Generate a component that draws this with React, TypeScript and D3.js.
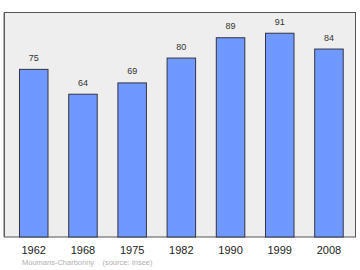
import React from "react";
import * as d3 from "d3";

const years = ["1962", "1968", "1975", "1982", "1990", "1999", "2008"];
const population = [75, 64, 69, 80, 89, 91, 84];
const footerLabel = "Moumans-Charbonny    (source: Insee)";

export default function App() {
  const W = 360, H = 270;
  const frame = { x0: 4.5, y0: 12.5, x1: 355.5, y1: 237 };
  const x = d3.scaleBand().domain(years).range([-5.5, 364.5]).paddingInner(0.42).paddingOuter(0.0);
  const y = d3.scaleLinear().domain([0, 100]).range([238.3, 12.4]);
  const bw = 28.5;
  const step = 49.2;
  const xs = d3.scaleLinear().domain([0, years.length - 1]).range([19, 19 + step * 6]);
  return (
    <svg width={W} height={H} style={{ position: "absolute", left: 0, top: 0 }}
      fontFamily="'Liberation Sans', Arial, sans-serif">
      <rect x={0} y={0} width={W} height={H} fill="#ffffff" />
      <rect x={frame.x0} y={frame.y0} width={frame.x1 - frame.x0} height={frame.y1 - frame.y0}
        fill="#eeeeee" stroke="#555555" strokeWidth={1} />
      <line x1={frame.x0 - 0.5} x2={frame.x0 - 0.5} y1={frame.y0} y2={frame.y1} stroke="#666" strokeWidth={1} />
      {population.map((v, i) => {
        const bx = xs(i);
        const top = y(v);
        return (
          <g key={years[i]}>
            <rect x={bx + 0.5} y={top + 0.5} width={bw} height={frame.y1 - top - 0.5}
              fill="#7099ff" stroke="#333344" strokeWidth={1} />
            <text x={bx + bw / 2 + 0.5} y={top - 8} textAnchor="middle" fontSize={9} fill="#333">{v}</text>
            <text x={bx + bw / 2 + 0.5} y={254} textAnchor="middle" fontSize={11} fill="#222">{years[i]}</text>
          </g>
        );
      })}
      <text x={22} y={265} fontSize={7.5} fill="#b0b0b0" style={{ whiteSpace: "pre" }}>{footerLabel}</text>
    </svg>
  );
}
